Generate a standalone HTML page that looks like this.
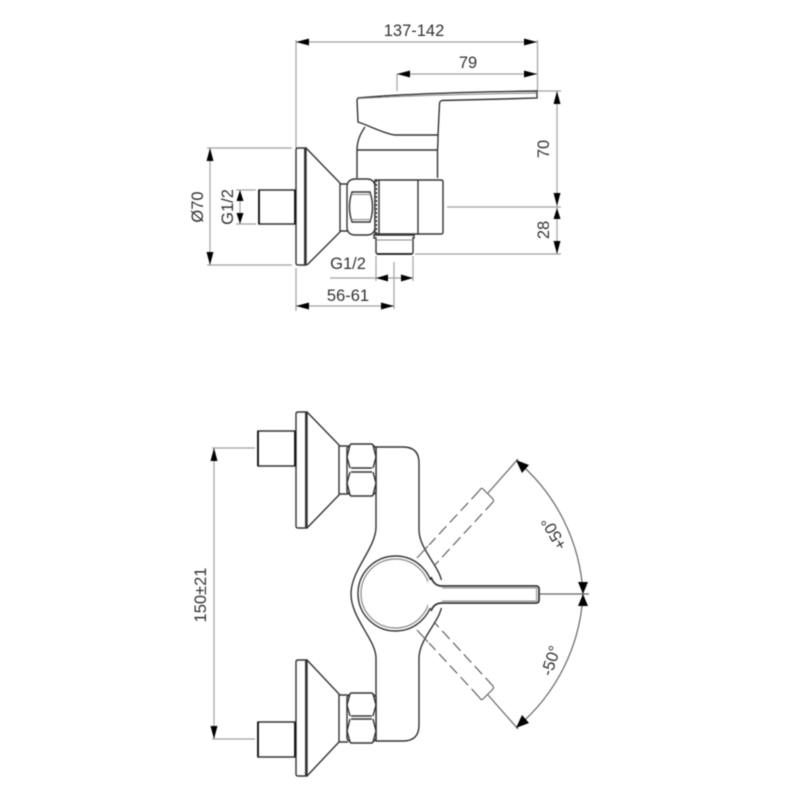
<!DOCTYPE html>
<html>
<head>
<meta charset="utf-8">
<style>
html,body{margin:0;padding:0;background:#fff}
svg{display:block;filter:blur(.45px)}
text{font-family:"Liberation Sans",sans-serif;font-size:16.5px;fill:#333}
.o{fill:none;stroke:#333;stroke-width:1.4}
.f{fill:#fff;stroke:#333;stroke-width:1.4}
.t{fill:none;stroke:#888;stroke-width:1}
.h{fill:none;stroke:#111;stroke-width:2.4}
.d{fill:none;stroke:#a2a2a2;stroke-width:1.2}
.c{fill:none;stroke:#666;stroke-width:1.2}
.s{fill:none;stroke:#555;stroke-width:1.1;stroke-dasharray:11 5}
.a{fill:#000;stroke:none}
</style>
</head>
<body>
<svg width="800" height="800" viewBox="0 0 800 800" xmlns="http://www.w3.org/2000/svg">
<rect width="800" height="800" fill="#fff"/>

<!-- TOP VIEW dimension lines -->
<g class="d">
<path d="M296 40V148M296 268V311M537.500 40V91M397 74V91"/>
<path d="M296 42H537M397 74H537"/>
<path d="M207 148H292M207 265H292M210 148V265"/>
<path d="M236 190H256M236 224H256M240 190V224"/>
<path d="M538 91H561M447 207H561M415 254H561M557 91V254"/>
<path d="M376 256V281M413 256V281M394 262V309M330 278H413M296 306H394"/>
</g>
<g class="a">
<path d="M296 42l13-3.500v7zM537 42l-13-3.500v7zM397 74l13-3.500v7zM537 74l-13-3.500v7z"/>
<path d="M210 148l-3.500 13h7zM210 265l-3.500-13h7z"/>
<path d="M240 190l-3.500 11h7zM240 224l-3.500-11h7z"/>
<path d="M557 91l-3.500 13h7zM557 206l-3.500-13h7zM557 208l-3.500 11h7zM557 254l-3.500-13h7z"/>
<path d="M376 278l12-3.500v7zM413 278l-12-3.500v7zM296 306l13-3.500v7zM394 306l-13-3.500v7z"/>
</g>

<!-- TOP VIEW faucet body -->
<path class="o" d="M365 127C360 134 357 141 357 150V178M438 135C438 141 438 145 437.500 150V178M357 150H437.500"/>
<path class="f" d="M358 98C400 94 470 92 537 91V98C505 99 470 100 442 100.500Q439.500 101 439.500 104L438 135H395C385 134 370 126 358 122L357 100Z"/>
<path class="t" d="M358 98.500C420 95 480 94 537 93"/>

<!-- flange, cone, stub -->
<path class="o" d="M306 148L340 183V232L307 265"/>
<path class="o" d="M340 184H348M340 231H348"/>
<path class="f" d="M298 148H306V265H298Q296 265 296 263V150Q296 148 298 148Z"/>
<path class="o" d="M305 148V265" style="stroke-width:2"/>
<path class="f" d="M259 190H295V224H259Z"/>
<path class="h" d="M259 190V224M295 190V224" style="stroke-width:1.800"/>

<!-- nut -->
<path class="f" d="M354 179H368Q375 180 375 187V227Q375 234 368 235H354Q347 234 347 227V187Q347 180 354 179Z"/>
<path class="o" d="M352 192H370Q375 207 370 222H352Q347 207 352 192Z"/>
<path class="t" d="M351 194.500H371M351 219.500H371"/>

<!-- valve block -->
<path class="f" d="M375 180H441Q443 180 443 182V232Q443 234 441 234H375Z"/>
<path class="o" d="M379 180V234M418 180V234"/>
<path class="o" d="M376.500 180V234" style="stroke-dasharray:2 2"/>
<path class="f" d="M374 235H414V238H413V252Q413 254 411 254H378Q376 254 376 252V238H374Z"/>
<path class="t" d="M376 240H413"/>
<path class="h" d="M377 254H412" style="stroke-width:1.600"/>

<text x="414" y="36" text-anchor="middle">137-142</text>
<text x="468" y="68" text-anchor="middle">79</text>
<text x="348" y="269" text-anchor="middle">G1/2</text>
<text x="348" y="301" text-anchor="middle">56-61</text>
<text transform="translate(203 207) rotate(-90)" text-anchor="middle">Ø70</text>
<text transform="translate(233 207) rotate(-90)" text-anchor="middle">G1/2</text>
<text transform="translate(549 149) rotate(-90)" text-anchor="middle">70</text>
<text transform="translate(549 230) rotate(-90)" text-anchor="middle">28</text>

<!-- BOTTOM VIEW dimension -->
<g class="d">
<path d="M212 448H255M212 739H255M214 448V739"/>
</g>
<path class="a" d="M214 448l-3.500 13h7zM214 739l-3.500-13h7z"/>
<text transform="translate(206 595) rotate(-90)" text-anchor="middle">150±21</text>

<!-- ghost handle caps and arc -->
<path class="c" d="M479 491L481 488.500Q482 488 483 489L493 499Q494 500 493 502M479 697L481 699.500Q482 700 483 699L493 689Q494 688 493 686"/>
<path class="c" d="M488 493L518 459M488 695L518 729M540 594H589"/>
<path class="c" d="M517 461A186 186 0 0 1 583 594A186 186 0 0 1 517 727"/>
<path class="a" d="M516 460L529 465L522 473ZM516 728L529 723L522 715ZM583 594L578 582H588ZM583 594L578 606H588Z"/>
<text transform="translate(555 533) rotate(-120)" text-anchor="middle" dominant-baseline="middle">+50°</text>
<text transform="translate(552 661) rotate(-72)" text-anchor="middle" dominant-baseline="middle">-50°</text>

<!-- body outline -->
<path class="f" d="M376 447H403Q419 447 419 463V530C419 550 442 568 442 585V603C442 620 419 638 419 658V725Q419 741 403 741H376V658C376 640 351 618 351 594C351 570 376 548 376 527Z"/>
<circle class="o" cx="395.500" cy="593.500" r="37.500"/>
<circle class="o" cx="395.500" cy="593.500" r="34.500" style="stroke:#888;stroke-width:1.200"/>

<!-- ghost handle dashes over body edge -->
<path class="s" d="M479 491L429 545M493 502L434 566M479 697L429 643M493 686L434 622"/>
<path class="c" d="M417 558L428 546M417 630L428 642"/>

<!-- handle -->
<path d="M428 580H448V608H428Z" fill="#fff"/>
<path class="o" d="M431 577Q434 586 442 586H536Q539 586 539 589V600Q539 603 536 603H442Q434 603 431 611" style="stroke-width:1.800"/>
<path class="t" d="M442 588H536.500V601H442"/>

<!-- upper fixture -->
<path class="o" d="M307 412L339 445V495L307 528"/>
<path class="o" d="M339 446H348M339 494H348"/>
<path class="f" d="M298 412H307V528H298Q296 528 296 526V414Q296 412 298 412Z"/>
<path class="o" d="M306 412V528" style="stroke-width:2"/>
<path class="f" d="M258 431H295V466H258Z"/>
<path class="h" d="M258 431V466M295 431V466" style="stroke-width:1.800"/>
<path class="f" d="M351 444H372L376 448V492L372 496H351L347 492V448Z"/>
<path class="o" d="M351 468H372M351 472H372M350 445L347 457L350 468M373 445L376 457L373 468M350 472L347 483L350 495M373 472L376 483L373 495"/>

<!-- lower fixture -->
<path class="o" d="M307 660L339 694V742L307 776"/>
<path class="o" d="M339 695H348M339 742H348"/>
<path class="f" d="M298 660H307V776H298Q296 776 296 774V662Q296 660 298 660Z"/>
<path class="o" d="M306 660V776" style="stroke-width:2"/>
<path class="f" d="M258 722H295V757H258Z"/>
<path class="h" d="M258 722V757M295 722V757" style="stroke-width:1.800"/>
<path class="f" d="M351 693H372L376 697V739L372 743H351L347 739V697Z"/>
<path class="o" d="M351 716H372M351 719H372M350 694L347 705L350 716M373 694L376 705L373 716M350 719L347 731L350 742M373 719L376 731L373 742"/>
</svg>
</body>
</html>
